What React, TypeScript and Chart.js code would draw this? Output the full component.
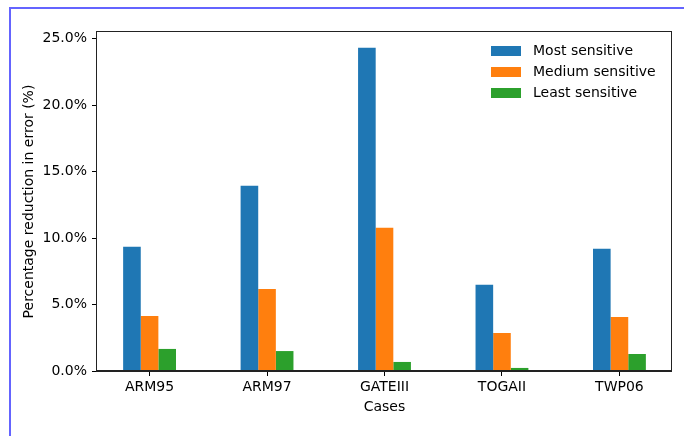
import React, { useEffect, useRef } from "react";
import { Chart, registerables } from "chart.js";

Chart.register(...registerables);

// Cases along the x axis
const cases = ["ARM95", "ARM97", "GATEIII", "TOGAII", "TWP06"];

// Percentage reduction in error per sensitivity group
const mostSensitive = [9.34, 13.93, 24.32, 6.48, 9.19];
const mediumSensitive = [4.14, 6.17, 10.77, 2.86, 4.07];
const leastSensitive = [1.66, 1.5, 0.68, 0.23, 1.28];

const seriesLabels = ["Most sensitive", "Medium sensitive", "Least sensitive"];
const seriesColors = ["#1f77b4", "#ff7f0e", "#2ca02c"];

const yTicks = [0, 5, 10, 15, 20, 25];

const FONT = "'DejaVu Sans', 'Liberation Sans', sans-serif";

// Axes frame drawn on all four sides, plus a legend in the upper-right corner
const framePlugin = {
  id: "frameAndLegend",
  afterDatasetsDraw(chart: any) {
    const { ctx, chartArea } = chart;
    const { left, right, top, bottom } = chartArea;
    ctx.save();
    ctx.strokeStyle = "#222";
    ctx.lineWidth = 1;
    ctx.strokeRect(left - 0.5, top - 0.5, right - left, bottom - top);
    // slightly heavier baseline
    ctx.fillStyle = "#222";
    ctx.fillRect(left - 1, bottom - 1, right - left + 1, 2);

    ctx.font = `14px ${FONT}`;
    ctx.textBaseline = "middle";
    ctx.textAlign = "left";
    chart.data.datasets.forEach((ds: any, i: number) => {
      const cy = top + 19 + i * 21;
      ctx.fillStyle = ds.backgroundColor;
      ctx.fillRect(right - 181, cy - 5, 30, 10);
      ctx.fillStyle = "#000";
      ctx.fillText(ds.label, right - 139, cy + 0.5);
    });
    ctx.restore();
  },
};

export default function App() {
  const canvasRef = useRef<HTMLCanvasElement | null>(null);

  useEffect(() => {
    if (!canvasRef.current) return;
    const series = [mostSensitive, mediumSensitive, leastSensitive];
    const chart = new Chart(canvasRef.current, {
      type: "bar",
      data: {
        datasets: series.map((vals, s) => ({
          label: seriesLabels[s],
          data: vals.map((v, i) => ({ x: i, y: v })),
          backgroundColor: seriesColors[s],
          borderWidth: 0,
          categoryPercentage: 0.45,
          barPercentage: 1,
        })),
      },
      options: {
        responsive: false,
        animation: false,
        devicePixelRatio: 1,
        color: "#000",
        font: { family: FONT, size: 14 },
        layout: { padding: { left: 0, top: 32, right: 12, bottom: 0 } },
        plugins: {
          legend: { display: false },
          tooltip: { enabled: false },
        },
        scales: {
          x: {
            type: "linear",
            offset: false,
            min: -0.4475,
            max: 4.4475,
            afterBuildTicks: (scale: any) => {
              scale.ticks = cases.map((_, i) => ({ value: i }));
            },
            afterFit: (scale: any) => {
              scale.height = 65;
            },
            border: { display: false },
            grid: {
              display: true,
              offset: false,
              drawOnChartArea: false,
              drawTicks: true,
              tickLength: 5,
              color: "#000",
              lineWidth: 1,
            },
            ticks: {
              autoSkip: false,
              maxRotation: 0,
              padding: 3,
              color: "#000",
              font: { family: FONT, size: 14 },
              callback: (v: any) => cases[Math.round(Number(v))],
            },
            title: {
              display: true,
              text: "Cases",
              color: "#000",
              font: { family: FONT, size: 14, lineHeight: 1.2 },
              padding: { top: 0, bottom: 20.6 },
            },
          },
          y: {
            type: "linear",
            min: 0,
            max: 25.5,
            afterBuildTicks: (scale: any) => {
              scale.ticks = yTicks.map((v) => ({ value: v }));
            },
            afterFit: (scale: any) => {
              scale.width = 97;
            },
            border: { display: false },
            grid: {
              display: true,
              drawOnChartArea: false,
              drawTicks: true,
              tickLength: 5,
              color: "#000",
              lineWidth: 1,
            },
            ticks: {
              padding: 5,
              color: "#000",
              font: { family: FONT, size: 14 },
              callback: (v: any) => Number(v).toFixed(1) + "%",
            },
            title: {
              display: true,
              text: "Percentage reduction in error (%)",
              color: "#000",
              font: { family: FONT, size: 14, lineHeight: 1.2 },
              padding: { top: 20.6, bottom: 0 },
            },
          },
        },
      } as any,
      plugins: [framePlugin],
    });
    return () => chart.destroy();
  }, []);

  return (
    <div
      style={{
        position: "fixed",
        left: 0,
        top: 0,
        width: 684,
        height: 436,
        background: "#fff",
        overflow: "hidden",
      }}
    >
      <canvas
        ref={canvasRef}
        width={684}
        height={436}
        style={{ position: "absolute", left: 0, top: 0, width: 684, height: 436 }}
      />
      <div
        style={{
          position: "absolute",
          left: 9,
          top: 7,
          right: 0,
          bottom: 0,
          borderTop: "2px solid #6464ff",
          borderLeft: "2px solid #6464ff",
          pointerEvents: "none",
        }}
      />
    </div>
  );
}
